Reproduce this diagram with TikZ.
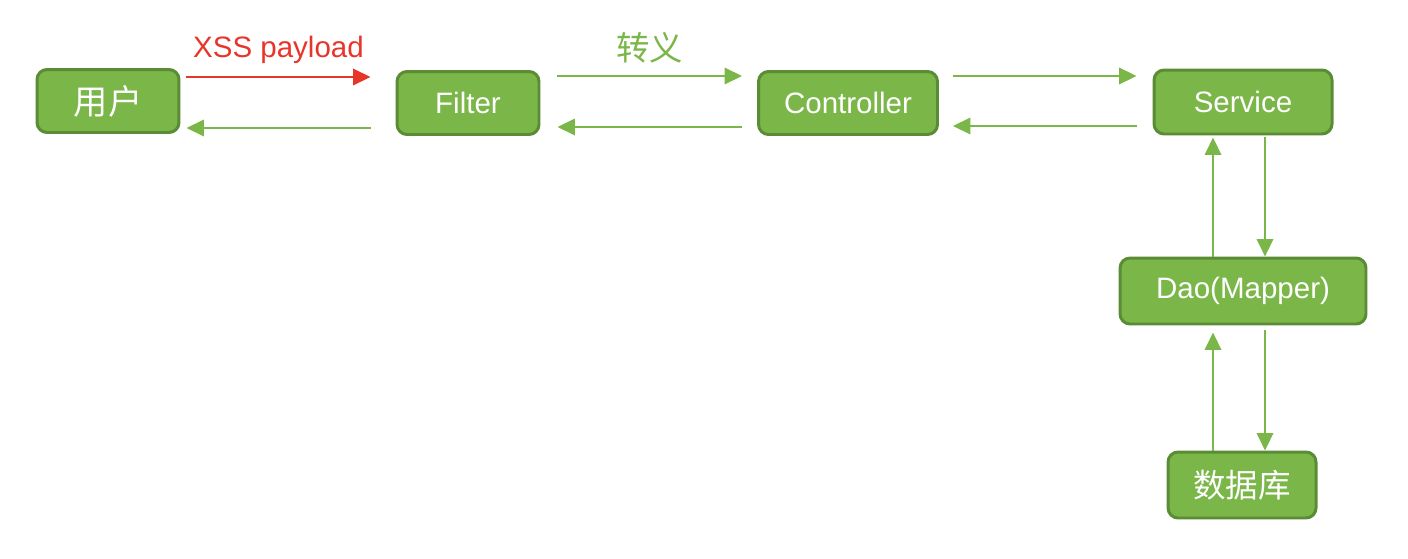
\documentclass[tikz,border=0pt]{standalone}
\usepackage{fontspec}
\setmainfont{Liberation Sans}
\newfontfamily\cjk{Noto Sans CJK SC}
\usetikzlibrary{arrows.meta}
\definecolor{boxgreen}{HTML}{7AB648}
\definecolor{boxedge}{HTML}{5B8C35}
\definecolor{linegreen}{HTML}{7AB648}
\definecolor{xssred}{HTML}{E8352A}
\tikzset{
  box/.style={draw=boxedge, fill=boxgreen, line width=1.7pt, rounded corners=0.2cm,
    text=white, font=\fontsize{16.8}{19}\selectfont, inner sep=0pt},
  cjkbox/.style={box, font=\fontsize{19.5}{21}\selectfont\cjk},
  flow/.style={draw=linegreen, line width=1.1pt, -{Triangle[length=0.35cm,width=0.33cm]}},
  redflow/.style={draw=xssred, line width=1.1pt, -{Triangle[length=0.35cm,width=0.33cm]}},
}
\begin{document}
\begin{tikzpicture}[x=0.02cm,y=-0.02cm]
\useasboundingbox (0,0) rectangle (1408,558);
\node[cjkbox, minimum width=2.84cm, minimum height=1.26cm] (u) at (108,101) {用户};
\node[box, minimum width=2.84cm, minimum height=1.26cm] (f) at (468,103) {Filter};
\node[box, minimum width=3.58cm, minimum height=1.26cm] (c) at (848,103) {Controller};
\node[box, minimum width=3.56cm, minimum height=1.28cm] (s) at (1243,102) {Service};
\node[box, minimum width=4.92cm, minimum height=1.32cm] (d) at (1243,291) {Dao(Mapper)};
\node[cjkbox, font=\fontsize{18.5}{20}\selectfont\cjk, minimum width=2.96cm, minimum height=1.32cm] (db) at (1242,485) {数据库};

% user <-> filter
\coordinate (a1s) at ([xshift=6*0.02cm, yshift=24*0.02cm]u.east);
\coordinate (a1e) at ([xshift=-25*0.02cm]f.west |- a1s);
\draw[redflow] (a1s) -- node[above=0.13cm, text=xssred, font=\fontsize{16.8}{19}\selectfont] (xl) {XSS payload} (a1e);
\coordinate (b1s) at ([xshift=-25*0.02cm, yshift=-25*0.02cm]f.west);
\coordinate (b1e) at ([xshift=6*0.02cm]u.east |- b1s);
\draw[flow] (b1s) -- (b1e);

% filter <-> controller
\coordinate (a2s) at ([xshift=17*0.02cm, yshift=27*0.02cm]f.east);
\coordinate (a2e) at ([xshift=-15*0.02cm]c.west |- a2s);
\draw[flow] (a2s) -- node[above=0.12cm, text=linegreen, font=\fontsize{19}{21}\selectfont\cjk] (tl) {转义} (a2e);
\coordinate (b2s) at ([xshift=-15*0.02cm, yshift=-24*0.02cm]c.west);
\coordinate (b2e) at ([xshift=17*0.02cm]f.east |- b2s);
\draw[flow] (b2s) -- (b2e);

% controller <-> service
\coordinate (a3s) at ([xshift=14*0.02cm, yshift=27*0.02cm]c.east);
\coordinate (a3e) at ([xshift=-16*0.02cm]s.west |- a3s);
\draw[flow] (a3s) -- (a3e);
\coordinate (b3s) at ([xshift=-16*0.02cm, yshift=-24*0.02cm]s.west);
\coordinate (b3e) at ([xshift=14*0.02cm]c.east |- b3s);
\draw[flow] (b3s) -- (b3e);

% service <-> dao
\coordinate (c1s) at ([xshift=22*0.02cm, yshift=-2*0.02cm]s.south);
\coordinate (c1e) at (c1s |- d.north);
\draw[flow] (c1s) -- (c1e);
\coordinate (c2s) at ([xshift=-30*0.02cm]d.north);
\coordinate (c2e) at (c2s |- c1s);
\draw[flow] (c2s) -- (c2e);

% dao <-> db
\coordinate (d1s) at ([xshift=22*0.02cm, yshift=-5*0.02cm]d.south);
\coordinate (d1e) at (d1s |- db.north);
\draw[flow] (d1s) -- (d1e);
\coordinate (d2s) at ([xshift=-30*0.02cm]d.south |- db.north);
\coordinate (d2e) at ([yshift=-7*0.02cm]d2s |- d.south);
\draw[flow] (d2s) -- (d2e);
\end{tikzpicture}
\end{document}
